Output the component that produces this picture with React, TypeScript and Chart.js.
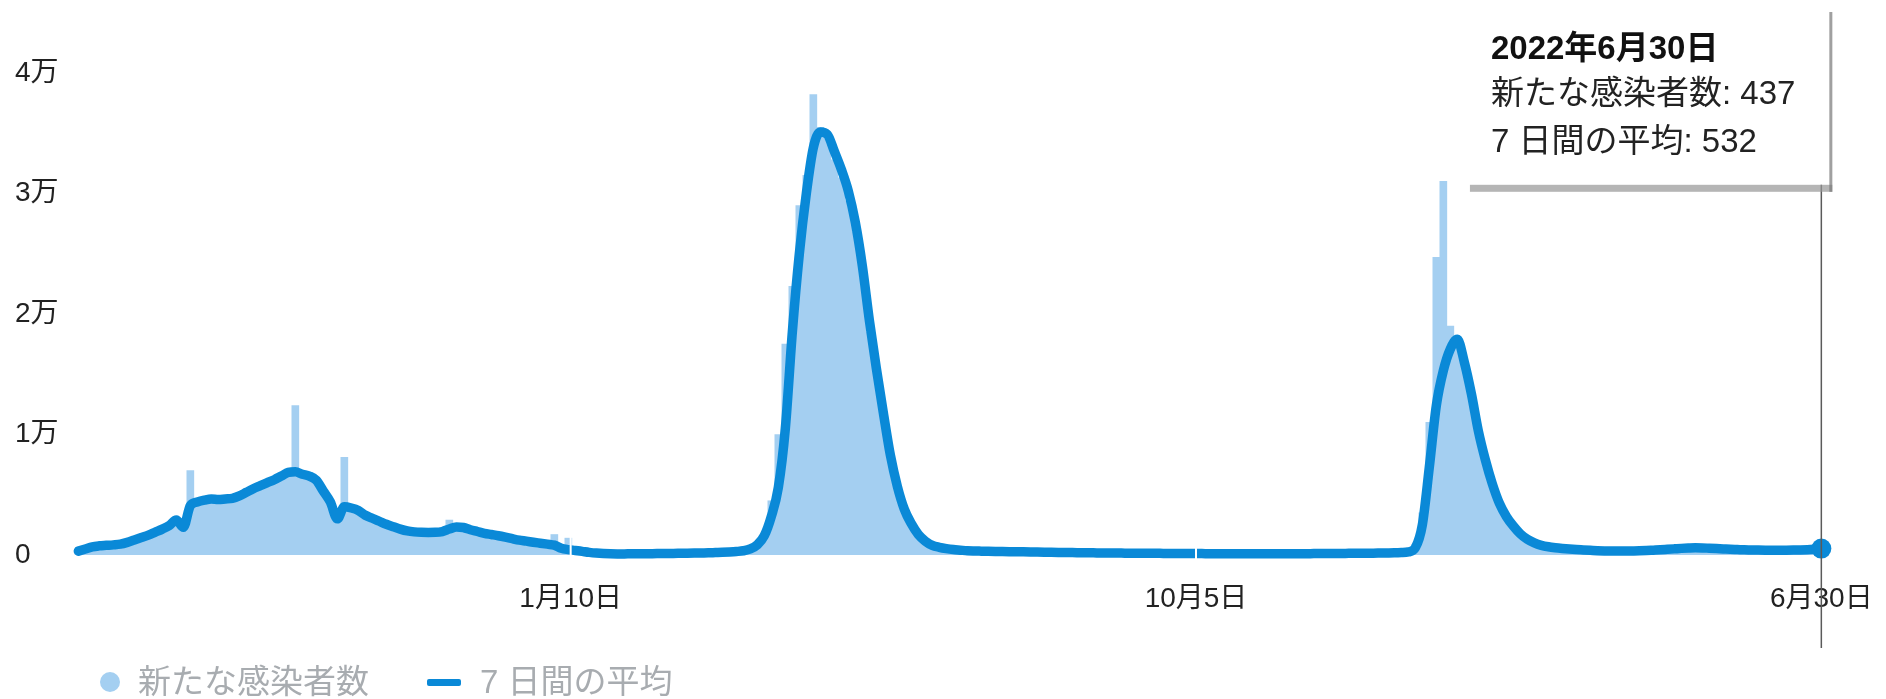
import React, { useEffect, useRef } from 'react';
import { Chart, registerables, Tooltip } from 'chart.js';

Chart.register(...registerables);

// ---- data -----------------------------------------------------------
const AXIS_START = '2020-06-12';
const AXIS_END = '2022-07-02';
const FIRST_DATE = '2020-06-13';
const STEP_DAYS = 3;

const xTickDates = ['2021-01-10', '2021-10-05', '2022-06-30'];
const xTickLabels = ['1月10日', '10月5日', '6月30日'];
const yTickValues = [0, 10000, 20000, 30000, 40000];
const yTickLabels = ['0', '1万', '2万', '3万', '4万'];

const SERIES_NEW = '新たな感染者数';
const SERIES_AVG = '7 日間の平均';

// daily new cases, sampled every 3 days from 2020-06-13
const newCases = [
  300, 520, 700, 760, 790, 850, 920, 1080, 1280, 1500,
  1700, 1950, 2200, 2500, 3000, 2200, 7000, 4500, 4600, 4700,
  4650, 4700, 4750, 4950, 5300, 5600, 5950, 6100, 6300, 6600,
  6900, 12400, 6800, 6600, 6300, 5200, 4300, 2800, 8100, 4000,
  3800, 3300, 3000, 2750, 2500, 2300, 2100, 1950, 1900, 1850,
  1850, 1900, 1950, 2900, 2350, 2300, 2100, 1950, 1800, 1700,
  1580, 1450, 1330, 1200, 1130, 1050, 960, 880, 1700, 580,
  1400, 370, 290, 210, 150, 110, 100, 90, 90, 100,
  100, 110, 110, 120, 130, 130, 140, 150, 160, 170,
  180, 200, 220, 250, 290, 360, 520, 900, 1800, 4500,
  10000, 17500, 22300, 29000, 31500, 38200, 35500, 34500, 32800, 31300,
  29400, 26800, 23000, 18500, 14800, 11200, 7800, 5300, 3600, 2400,
  1600, 1100, 780, 620, 520, 440, 390, 340, 320, 310,
  300, 290, 290, 270, 260, 260, 250, 230, 230, 220,
  200, 200, 190, 190, 180, 170, 170, 160, 160, 150,
  150, 140, 140, 140, 130, 130, 130, 120, 120, 120,
  110, 110, 110, 100, 100, 100, 100, 100, 90, 100,
  100, 100, 110, 110, 110, 110, 120, 120, 120, 130,
  130, 140, 140, 150, 150, 160, 170, 180, 200, 230,
  300, 900, 3500, 11000, 24700, 31000, 19000, 17200, 15400, 13000,
  10000, 7900, 6000, 4400, 3300, 2400, 1750, 1250, 950, 780,
  650, 580, 520, 480, 440, 410, 380, 350, 330, 320,
  320, 330, 340, 350, 370, 400, 430, 470, 510, 550,
  570, 590, 580, 550, 520, 490, 460, 440, 420, 410,
  400, 390, 380, 380, 390, 400, 410, 430, 470, 437,
];

// 7-day average, same sampling
const avg7 = [
  320, 500, 680, 760, 800, 840, 900, 1050, 1250, 1450,
  1650, 1900, 2150, 2450, 2900, 2300, 4100, 4400, 4550, 4650,
  4600, 4650, 4700, 4900, 5200, 5500, 5750, 6000, 6250, 6550,
  6850, 6900, 6700, 6550, 6200, 5300, 4400, 3000, 4000, 3900,
  3700, 3300, 3050, 2800, 2550, 2350, 2150, 2000, 1920, 1880,
  1870, 1880, 1950, 2150, 2330, 2280, 2100, 1950, 1800, 1700,
  1600, 1480, 1350, 1230, 1150, 1060, 980, 900, 820, 560,
  450, 380, 300, 220, 160, 120, 100, 90, 90, 100,
  100, 110, 110, 120, 130, 130, 140, 150, 160, 170,
  180, 200, 220, 250, 290, 350, 500, 850, 1600, 3200,
  5600, 10500, 18500, 25000, 30000, 33800, 35100, 34900, 33500, 32000,
  30200, 27600, 24000, 19500, 15500, 11800, 8300, 5700, 3800, 2600,
  1700, 1150, 800, 640, 530, 450, 400, 350, 330, 320,
  310, 300, 290, 280, 270, 260, 250, 240, 230, 220,
  210, 200, 200, 190, 180, 180, 170, 170, 160, 160,
  150, 150, 140, 140, 140, 130, 130, 130, 120, 120,
  120, 110, 110, 110, 100, 100, 100, 100, 100, 100,
  100, 100, 100, 110, 110, 110, 110, 120, 120, 120,
  130, 130, 140, 140, 150, 150, 160, 170, 180, 200,
  250, 600, 2500, 7300, 12400, 15300, 17100, 17900, 16000, 13400,
  10300, 7900, 5900, 4300, 3200, 2400, 1750, 1300, 1000, 800,
  680, 600, 540, 490, 450, 420, 390, 360, 340, 330,
  330, 330, 340, 350, 370, 400, 430, 470, 510, 550,
  580, 600, 590, 560, 530, 500, 470, 450, 430, 420,
  410, 400, 390, 390, 400, 410, 420, 440, 480, 532,
];

// ---- helpers --------------------------------------------------------
const DAY_MS = 86400000;
const dayNum = (s: string) => {
  const [y, m, d] = s.split('-').map(Number);
  return Date.UTC(y, m - 1, d) / DAY_MS;
};
const ORIGIN = dayNum(AXIS_START);
const firstX = dayNum(FIRST_DATE) - ORIGIN;
const axisMax = dayNum(AXIS_END) - ORIGIN;
const tickDays = xTickDates.map((s) => dayNum(s) - ORIGIN);
const xOf = (i: number) => firstX + i * STEP_DAYS;
const dateLabel = (x: number) => {
  const d = new Date((ORIGIN + x) * DAY_MS);
  return `${d.getUTCFullYear()}年${d.getUTCMonth() + 1}月${d.getUTCDate()}日`;
};

const FONT = "'Liberation Sans', 'Noto Sans CJK JP', sans-serif";
const BAR_COLOR = '#a4cff1';
const LINE_COLOR = '#0a89d7';

(Tooltip as any).positioners.fixedTopRight = function () {
  const chart = (this as any).chart;
  const last = avg7.length - 1;
  const px = chart.scales.x.getPixelForValue(xOf(last));
  return { x: px + 9, y: 12 };
};

const overlayPlugin = {
  id: 'overlay',
  afterDatasetsDraw(chart: any) {
    const { ctx, chartArea, scales } = chart;
    const x = scales.x;
    ctx.save();
    ctx.strokeStyle = '#ffffff';
    ctx.lineWidth = 2;
    tickDays.slice(0, 2).forEach((d) => {
      const px = x.getPixelForValue(d);
      ctx.beginPath();
      ctx.moveTo(px, chartArea.top);
      ctx.lineTo(px, chartArea.bottom + 6);
      ctx.stroke();
    });
    const lx = x.getPixelForValue(xOf(avg7.length - 1));
    ctx.strokeStyle = '#5a5a5a';
    ctx.lineWidth = 1.5;
    ctx.beginPath();
    ctx.moveTo(lx, 12);
    ctx.lineTo(lx, 648);
    ctx.stroke();
    ctx.restore();
  },
  afterTooltipDraw(chart: any, args: any) {
    const t = args.tooltip;
    const ctx = chart.ctx;
    ctx.save();
    ctx.fillStyle = 'rgba(150,150,150,0.7)';
    ctx.fillRect(t.x, t.y + t.height, t.width + 2, 7);
    ctx.fillStyle = 'rgba(120,120,120,0.7)';
    ctx.fillRect(t.x + t.width - 1, t.y, 3, t.height + 7);
    ctx.restore();
  },
};

export default function App() {
  const canvasRef = useRef<HTMLCanvasElement | null>(null);

  useEffect(() => {
    document.body.style.margin = '0';
    const canvas = canvasRef.current;
    if (!canvas) return;
    Chart.defaults.font.family = FONT;
    const last = avg7.length - 1;
    const barPoints = newCases.map((v, i) => ({ x: xOf(i), y: v }));
    const avgPoints = avg7.map((v, i) => ({ x: xOf(i), y: v }));

    const chart = new Chart(canvas, {
      type: 'bar',
      data: {
        datasets: [
          {
            type: 'bar',
            label: SERIES_NEW,
            data: barPoints as any,
            backgroundColor: BAR_COLOR,
            borderWidth: 0,
            barPercentage: 1,
            categoryPercentage: 1,
            order: 1,
          } as any,
          {
            type: 'line',
            label: SERIES_AVG,
            data: avgPoints as any,
            borderColor: LINE_COLOR,
            backgroundColor: LINE_COLOR,
            borderWidth: 9.5,
            pointRadius: (c: any) => (c.dataIndex === last ? 10 : 0),
            pointBackgroundColor: LINE_COLOR,
            pointBorderWidth: 0,
            cubicInterpolationMode: 'monotone',
            borderJoinStyle: 'round',
            borderCapStyle: 'round',
            clip: false,
            order: 0,
          } as any,
        ],
      },
      options: {
        responsive: false,
        animation: false,
        events: [],
        layout: { padding: { left: 15, right: 60, top: 73, bottom: 84 } },
        scales: {
          x: {
            type: 'linear',
            min: 0,
            max: axisMax,
            offset: false,
            grid: { display: false, offset: false },
            border: { display: false },
            afterBuildTicks: (s: any) => {
              s.ticks = tickDays.map((v) => ({ value: v }));
            },
            afterFit: (s: any) => {
              s.height = 60;
              s.paddingLeft = 0;
              s.paddingRight = 0;
            },
            ticks: {
              autoSkip: false,
              maxRotation: 0,
              padding: 19,
              color: '#222',
              font: { size: 28, family: FONT },
              callback: (_v: any, i: number) => xTickLabels[i],
            },
          },
          y: {
            type: 'linear',
            min: 0,
            max: 40000,
            grid: { display: false },
            border: { display: false },
            afterBuildTicks: (s: any) => {
              s.ticks = yTickValues.map((v) => ({ value: v }));
            },
            afterFit: (s: any) => {
              s.width = 61;
              s.paddingTop = 0;
              s.paddingBottom = 0;
            },
            ticks: {
              crossAlign: 'far',
              color: '#222',
              font: { size: 28, family: FONT },
              callback: (_v: any, i: number) => yTickLabels[i],
            },
          },
        } as any,
        plugins: {
          legend: { display: false },
          tooltip: {
            enabled: true,
            position: 'fixedTopRight' as any,
            xAlign: 'right',
            yAlign: 'top',
            caretSize: 0,
            caretPadding: 0,
            cornerRadius: 0,
            borderWidth: 0,
            displayColors: false,
            backgroundColor: '#ffffff',
            titleColor: '#111111',
            bodyColor: '#222222',
            titleFont: { size: 33, weight: 'bold', family: FONT },
            bodyFont: { size: 33, family: FONT },
            padding: { top: 18, right: 35, bottom: 22, left: 21 } as any,
            titleMarginBottom: 6,
            bodySpacing: 8,
            callbacks: {
              title: (items: any[]) => dateLabel(items[0].parsed.x),
              label: (item: any) => `${item.dataset.label}: ${item.formattedValue}`,
            },
          },
        },
      },
      plugins: [overlayPlugin as any],
    });

    chart.tooltip?.setActiveElements(
      [
        { datasetIndex: 0, index: last },
        { datasetIndex: 1, index: last },
      ],
      { x: 0, y: 0 }
    );
    chart.update();

    return () => chart.destroy();
  }, []);

  const legendText: React.CSSProperties = {
    position: 'absolute',
    top: 662,
    height: 40,
    lineHeight: '40px',
    fontSize: 33,
    fontFamily: FONT,
    color: '#a8acb0',
    whiteSpace: 'nowrap',
  };

  return (
    <div style={{ position: 'relative', width: 1886, height: 699, background: '#fff', overflow: 'hidden' }}>
      <canvas ref={canvasRef} width={1886} height={699} style={{ display: 'block', position: 'absolute', left: 0, top: 0 }} />
      <span
        style={{ position: 'absolute', left: 100, top: 672, width: 20, height: 20, borderRadius: '50%', background: BAR_COLOR }}
      />
      <span style={{ ...legendText, left: 138 }}>{SERIES_NEW}</span>
      <span
        style={{ position: 'absolute', left: 427, top: 679, width: 34, height: 7, borderRadius: 2, background: LINE_COLOR }}
      />
      <span style={{ ...legendText, left: 480 }}>{SERIES_AVG}</span>
    </div>
  );
}
